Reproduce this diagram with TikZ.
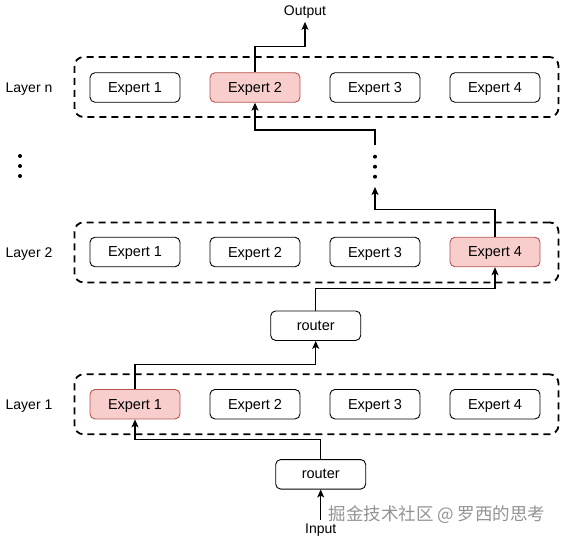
\documentclass[tikz,border=0pt]{standalone}
\usepackage{fontspec}
\setmainfont{Liberation Sans}
\newfontfamily\cjkfont{Noto Sans CJK SC}
\usetikzlibrary{arrows.meta}
\definecolor{hotfill}{HTML}{F8CECC}
\definecolor{hotdraw}{HTML}{B85450}
\definecolor{markgray}{HTML}{939393}
\tikzset{
  expert/.style={draw, rounded corners=5pt, minimum width=90pt, minimum height=29.5pt, inner sep=0pt, text depth=0pt, line width=0.9pt, font=\fontsize{14.5}{16}\selectfont},
  hot/.style={expert, fill=hotfill, draw=hotdraw},
  layerbox/.style={draw, dash pattern=on 7pt off 5pt, line width=1.8pt, rounded corners=9pt, minimum width=484pt, minimum height=60pt},
  lbl/.style={font=\fontsize{14}{16}\selectfont},
  dot/.style={circle, fill=black, inner sep=0pt, minimum size=4pt},
  arr/.style={-{Stealth[length=8pt,width=7pt,inset=2pt]}, line width=1.1pt}
}

\begin{document}
\begin{tikzpicture}[x=1pt, y=-1pt]
  \useasboundingbox (0,0) rectangle (561,540);

  % Les couches
  \node[layerbox] (ln) at (316.5,87) {};
  \node[layerbox] (l2) at (316.5,252.4) {};
  \node[layerbox] (l1) at (316.5,404.3) {};
  \node[lbl, text depth=0pt] (tn) at (29,88) {Layer n};
  \node[lbl, text depth=0pt] (t2) at (29,253) {Layer 2};
  \node[lbl, text depth=0pt] (t1) at (29,405) {Layer 1};

  % Les experts
  \foreach \i/\x/\s in {1/135/expert, 2/255/hot, 3/375/expert, 4/495/expert}
    \node[\s] (xn\i) at (\x,87.5) {Expert \i};
  \foreach \i/\x/\s in {1/135/expert, 2/255/expert, 3/375/expert, 4/495/hot}
    \node[\s] (x2\i) at (\x,252) {Expert \i};
  \foreach \i/\x/\s in {1/135/hot, 2/255/expert, 3/375/expert, 4/495/expert}
    \node[\s] (x1\i) at (\x,404.2) {Expert \i};

  % Les routeurs
  \node[expert] (r2) at (315.7,325.7) {router};
  \node[expert] (r1) at (320.7,474.3) {router};

  % Les points de suspension
  \foreach \i/\y in {1/156,2/166,3/176} {
    \node[dot] (ld\i) at (20,\y) {};
    \node[dot] (vd\i) at (375,\y+0.7) {};
  }
  \coordinate (vtip) at (375,187);
  \coordinate (vtop) at (375,145);

  % Entree et sortie
  \node[lbl] (in) at (320.7,530) {Input};
  \node[lbl] (out) at (305,12) {Output};

  % Les fleches
  \draw[arr] (in.north) -- (r1.south);
  \draw[arr] (r1.north) -- ++(0,-20) -| (x11.south);
  \draw[arr] (x11.north) -- ++(0,-24.3) -| (r2.south);
  \draw[arr] (r2.north) -- ++(0,-22) -| (x24.south);
  \draw[arr] (x24.north) -- ++(0,-27.3) -| (vtip);
  \draw[arr] (vtop) -- ++(0,-15) -| (xn2.south);
  \draw[arr] (xn2.north) -- ++(0,-26) -| (out.south);

  % Filigrane
  \node[text=markgray, font=\cjkfont\fontsize{17.5}{19}\selectfont] (wm) at (437,515) {掘金技术社区 @ 罗西的思考};
\end{tikzpicture}
\end{document}
